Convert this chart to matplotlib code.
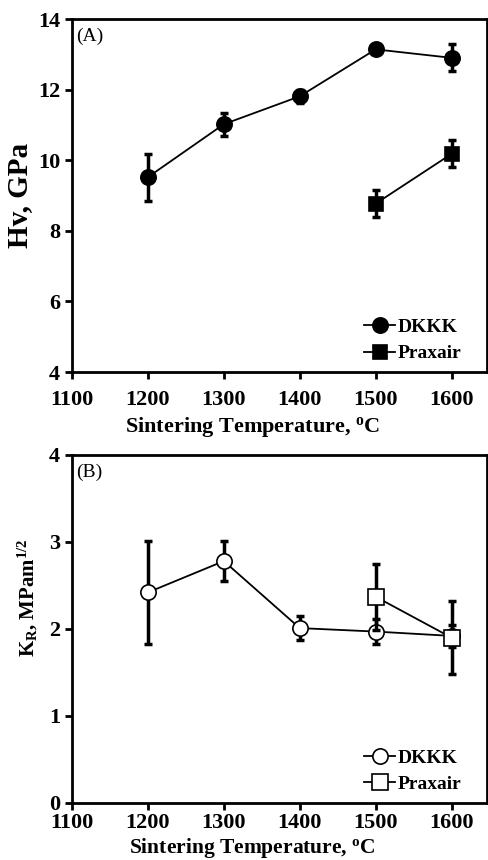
import matplotlib.pyplot as plt

plt.rcParams['font.family'] = ['Liberation Serif', 'DejaVu Serif']
plt.rcParams['font.weight'] = 'bold'
plt.rcParams['mathtext.fontset'] = 'custom'
plt.rcParams['mathtext.rm'] = 'Liberation Serif:bold'
plt.rcParams['mathtext.bf'] = 'Liberation Serif:bold'
plt.rcParams['mathtext.it'] = 'Liberation Serif:bold'

temps_dkkk = [1200, 1300, 1400, 1500, 1600]
temps_prax = [1500, 1600]

# (A) hardness
hv_dkkk = [9.52, 11.02, 11.81, 13.14, 12.90]
hv_dkkk_err = [0.67, 0.33, 0.19, 0.12, 0.38]
hv_prax = [8.77, 10.18]
hv_prax_err = [0.38, 0.38]

# (B) toughness
kr_dkkk = [2.42, 2.78, 2.01, 1.97, 1.92]
kr_dkkk_err = [0.59, 0.23, 0.14, 0.14, 0.13]
kr_prax = [2.37, 1.90]
kr_prax_err = [0.38, 0.42]

xticks = [1100, 1200, 1300, 1400, 1500, 1600]

fig = plt.figure(figsize=(4.88, 8.6), dpi=100)
ax1 = fig.add_axes([0.1475, 0.5674, 0.851, 0.4105])
ax2 = fig.add_axes([0.1475, 0.0663, 0.851, 0.4047])

err_kw = dict(fmt='none', ecolor='black', elinewidth=2.5, capsize=3, capthick=2.5)


def draw(ax, x, y, err, marker, face, ms, label):
    ax.errorbar(x, y, yerr=err, **err_kw)
    ax.plot(x, y, color='black', linewidth=1.3, marker=marker, markersize=ms,
            markerfacecolor=face, markeredgecolor='black', markeredgewidth=1.2,
            label=label)


draw(ax1, temps_dkkk, hv_dkkk, hv_dkkk_err, 'o', 'black', 11, 'DKKK')
draw(ax1, temps_prax, hv_prax, hv_prax_err, 's', 'black', 10, 'Praxair')
ax1.set_ylim(4, 14)
ax1.set_yticks([4, 6, 8, 10, 12, 14])
ax1.set_ylabel('Hv, GPa', fontsize=21, fontweight='bold')
ax1.yaxis.set_label_coords(-0.093, 0.5)
ax1.text(0.01, 0.975, '(A)', transform=ax1.transAxes, fontsize=14,
         fontweight='normal', va='top', ha='left')
ax1.tick_params(axis='x', pad=8)
ax1.set_xlabel(r'Sintering Temperature, $^{\mathrm{o}}$C', fontsize=16, fontweight='bold')
ax1.xaxis.set_label_coords(0.434, -0.121)

draw(ax2, temps_dkkk, kr_dkkk, kr_dkkk_err, 'o', 'white', 11, 'DKKK')
draw(ax2, temps_prax, kr_prax, kr_prax_err, 's', 'white', 11, 'Praxair')
ax2.set_ylim(0, 4)
ax2.set_yticks([0, 1, 2, 3, 4])
ax2.set_ylabel(r'K$_{\mathrm{R}}$, MPam$^{\mathrm{1/2}}$', fontsize=15, fontweight='bold')
ax2.yaxis.set_label_coords(-0.077, 0.589)
ax2.text(0.01, 0.975, '(B)', transform=ax2.transAxes, fontsize=14,
         fontweight='normal', va='top', ha='left')
ax2.tick_params(axis='x', pad=2.5)
ax2.set_xlabel(r'Sintering Temperature, $^{\mathrm{o}}$C', fontsize=15.5, fontweight='bold')
ax2.xaxis.set_label_coords(0.434, -0.094)

for ax in (ax1, ax2):
    ax.set_xlim(1100, 1647)
    ax.set_xticks(xticks)
    ax.tick_params(direction='out', length=5, width=2, labelsize=16)
    for lab in ax.get_xticklabels() + ax.get_yticklabels():
        lab.set_fontweight('bold')
    for side in ax.spines:
        ax.spines[side].set_linewidth(2)
    leg = ax.legend(loc='lower right', bbox_to_anchor=(0.962, 0.0), frameon=False,
                    fontsize=14, handlelength=1.6, handletextpad=0.15,
                    borderaxespad=0.3, labelspacing=0.45, borderpad=0.2)
    for t in leg.get_texts():
        t.set_fontweight('bold')

fig.savefig('out.png', dpi=100)
